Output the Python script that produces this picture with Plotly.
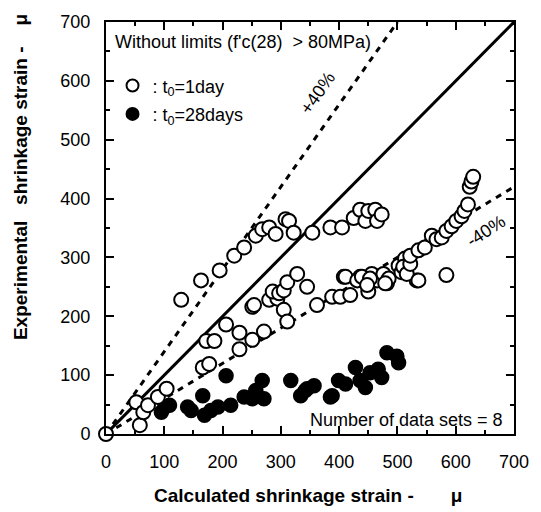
import plotly.graph_objects as go

# t0 = 1 day (open circles): calculated, experimental (microstrain)
calc_1day = [0, 58, 52, 64, 72, 89, 104,
             129, 163, 195, 220, 237, 257, 268, 280, 291, 308, 314, 322, 354,
             385, 405, 425, 436, 445, 450, 462, 465, 473,
             166, 177, 172, 186, 206, 229, 229, 251, 271, 251, 254,
             280, 294, 286, 297, 305, 311, 328, 305, 311, 345, 362,
             388, 402, 419, 408, 436, 445, 450, 456, 465, 476, 482, 485,
             411, 431, 439, 453, 448, 479, 502, 507, 513, 533,
             510, 516, 522, 522, 536, 536, 547, 559, 567, 576, 584, 593,
             601, 610, 615, 621, 624, 627, 630, 584]
exp_1day = [0, 15, 54, 37, 49, 63, 77,
            228, 261, 278, 303, 317, 337, 348, 351, 340, 365, 362, 342, 342,
            351, 351, 367, 381, 362, 379, 381, 362, 373,
            113, 119, 158, 158, 186, 172, 144, 160, 174, 216, 219,
            228, 230, 242, 239, 244, 258, 272, 211, 191, 250, 219,
            233, 233, 236, 267, 267, 261, 242, 272, 261, 272, 256, 264,
            267, 261, 267, 264, 253, 256, 286, 275, 298, 261,
            284, 272, 289, 303, 261, 312, 317, 337, 331, 334, 345, 353,
            362, 370, 379, 390, 420, 429, 437, 270]

# t0 = 28 days (filled circles)
calc_28day = [95, 101, 109, 140, 146, 166, 169, 180, 192, 206, 214, 237, 251,
              257, 268, 271, 317, 334, 342, 345, 357, 385, 388, 399, 411, 428,
              436, 445, 453, 467, 473, 482, 499, 502]
exp_28day = [37, 46, 49, 46, 40, 65, 32, 40, 46, 99, 49, 63, 60,
             74, 91, 60, 91, 65, 74, 77, 82, 63, 65, 91, 85, 113,
             91, 79, 104, 110, 96, 138, 132, 121]

ref_x = [0, 700]
ratio_lines = {"+40%": 1.4, "equal": 1.0, "-40%": 0.6}
tick_vals = [0, 100, 200, 300, 400, 500, 600, 700]
axis_max = 700

FONT = "Liberation Sans, Arial, Helvetica, sans-serif"

fig = go.Figure()

# reference lines
x_end_plus = axis_max / ratio_lines["+40%"]
fig.add_trace(go.Scatter(x=[0, x_end_plus], y=[0, x_end_plus * ratio_lines["+40%"]],
                         mode="lines", line=dict(color="black", width=3, dash="6px,6px"),
                         showlegend=False, hoverinfo="skip"))
fig.add_trace(go.Scatter(x=ref_x, y=[v * ratio_lines["equal"] for v in ref_x],
                         mode="lines", line=dict(color="black", width=3),
                         showlegend=False, hoverinfo="skip"))
fig.add_trace(go.Scatter(x=ref_x, y=[v * ratio_lines["-40%"] for v in ref_x],
                         mode="lines", line=dict(color="black", width=3, dash="6px,6px"),
                         showlegend=False, hoverinfo="skip"))

fig.add_trace(go.Scatter(x=calc_28day, y=exp_28day, mode="markers",
                         name=": t<sub>0</sub>=28days", legendgroup="b", legendrank=2,
                         marker=dict(symbol="circle", size=14, color="black",
                                     line=dict(color="black", width=1.5)),
                         cliponaxis=False))
fig.add_trace(go.Scatter(x=calc_1day, y=exp_1day, mode="markers",
                         name=": t<sub>0</sub>=1day", legendgroup="a", legendrank=1,
                         marker=dict(symbol="circle", size=14, color="white",
                                     line=dict(color="black", width=2)),
                         cliponaxis=False))

axis_common = dict(range=[0, axis_max], tickvals=tick_vals, ticks="inside", ticklen=8,
                   tickwidth=1.5, tickcolor="black", showline=True, linewidth=2,
                   linecolor="black", mirror="allticks", showgrid=False, zeroline=False,
                   ticklabelstandoff=10,
                   tickfont=dict(family=FONT, size=18, color="black"),
                   minor=dict(dtick=50, ticks="inside", ticklen=4, tickcolor="black",
                              tickwidth=1.5, showgrid=False))

fig.update_layout(
    width=541, height=512,
    margin=dict(l=106, r=25, t=17, b=78),
    paper_bgcolor="white", plot_bgcolor="white",
    font=dict(family=FONT, color="black"),
    xaxis=dict(**axis_common),
    yaxis=dict(**axis_common),
    showlegend=True,
    legend=dict(x=0.016, y=0.89, xanchor="left", yanchor="top",
                bgcolor="rgba(0,0,0,0)", font=dict(family=FONT, size=18, color="black"),
                tracegroupgap=2, traceorder="grouped", itemsizing="constant"),
)

annotations = [
    dict(text="Without limits (f'c(28)\u00a0 > 80MPa)", x=0.018, y=0.952,
         xanchor="left", yanchor="middle", font=dict(size=18)),
    dict(text="+40%", x=363, y=580, xref="x", yref="y", textangle=-55,
         font=dict(size=18)),
    dict(text="-40%", x=652, y=345, xref="x", yref="y", textangle=-33,
         font=dict(size=18)),
    dict(text="Number of data sets = 8", x=0.978, y=0.034, xanchor="right",
         yanchor="middle", font=dict(size=18)),
    dict(text="<b>Calculated shrinkage strain -\u00a0\u00a0\u00a0\u00a0\u00a0\u00a0 μ</b>",
         x=0.495, y=-0.15, xanchor="center", yanchor="middle", font=dict(size=19)),
    dict(text="<b>Experimental\u00a0\u00a0 shrinkage strain -\u00a0\u00a0\u00a0 μ</b>",
         x=-0.208, y=0.624, xanchor="center", yanchor="middle", textangle=-90,
         font=dict(size=19)),
]
for a in annotations:
    a.setdefault("xref", "paper")
    a.setdefault("yref", "paper")
    a["showarrow"] = False
    a["font"] = dict(family=FONT, color="black", **a["font"])
    fig.add_annotation(**a)

fig.write_html("out.html", config={"displayModeBar": False},
               post_script="document.body.style.margin='0';document.body.style.padding='0';")
